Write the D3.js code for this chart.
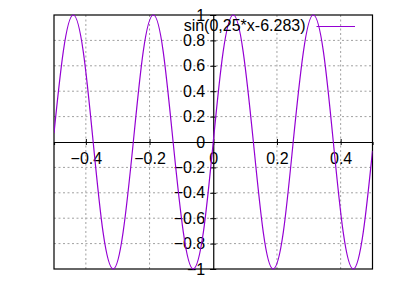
<!DOCTYPE html>
<html>
<head>
<meta charset="utf-8">
<script src="https://cdn.jsdelivr.net/npm/d3@7"></script>
<style>
  body { margin: 0; background: #fff; }
  text { font-family: "Liberation Sans", Arial, sans-serif; font-size: 16px; fill: #000; }
</style>
</head>
<body>
<svg id="canvas" width="400" height="300"></svg>
<script>
// points (peaks, zero crossings, half-way points)
const xValues = [-0.5, -0.471, -0.440, -0.408, -0.377, -0.346, -0.314, -0.283, -0.251, -0.220, -0.188,
                 -0.157, -0.126, -0.094, -0.063, -0.031, 0, 0.031, 0.063, 0.094, 0.126, 0.157,
                 0.188, 0.220, 0.251, 0.283, 0.314, 0.346, 0.377, 0.408, 0.440, 0.471, 0.5];
const yValues = [0.07, 0.71, 1, 0.71, 0, -0.71, -1, -0.71, 0, 0.71, 1,
                 0.71, 0, -0.71, -1, -0.71, 0, 0.71, 1, 0.71, 0, -0.71,
                 -1, -0.71, 0, 0.71, 1, 0.71, 0, -0.71, -1, -0.71, -0.07];
const xTicks = [-0.4, -0.2, 0, 0.2, 0.4];
const yTicks = [-1, -0.8, -0.6, -0.4, -0.2, 0, 0.2, 0.4, 0.6, 0.8, 1];
const seriesName = 'sin(0,25*x-6.283)';

const svg = d3.select('#canvas');
const plotLeft = 54, plotRight = 372.5, plotTop = 15, plotBottom = 269;

const x = d3.scaleLinear().domain([-0.5, 0.5]).range([plotLeft, plotRight]);
const y = d3.scaleLinear().domain([-1, 1]).range([plotBottom, plotTop]);

// dotted grid
svg.append('g')
   .selectAll('line')
   .data(xTicks.filter(d => d !== 0))
   .enter()
   .append('line')
   .attr('x1', d => x(d)).attr('x2', d => x(d))
   .attr('y1', plotTop).attr('y2', plotBottom)
   .attr('stroke', '#a0a0a0').attr('stroke-dasharray', '2,2.5');

svg.append('g')
   .selectAll('line')
   .data(yTicks.filter(d => d !== 0 && Math.abs(d) !== 1))
   .enter()
   .append('line')
   .attr('x1', plotLeft).attr('x2', plotRight)
   .attr('y1', d => y(d)).attr('y2', d => y(d))
   .attr('stroke', '#a0a0a0').attr('stroke-dasharray', '2,2.5');

// zero axes
const xAxis = svg.append('g')
   .attr('transform', `translate(0,${y(0)})`)
   .call(d3.axisBottom(x).tickValues(xTicks).tickFormat(d3.format('')).tickSizeOuter(0).tickSize(3).tickPadding(7.6));
xAxis.selectAll('.tick line').attr('y1', -3).attr('y2', 3).attr('stroke', '#000');
xAxis.select('.domain').attr('stroke', '#000').attr('stroke-width', 1.2);

const yAxis = svg.append('g')
   .attr('transform', `translate(${x(0)},0)`)
   .call(d3.axisLeft(y).tickValues(yTicks).tickFormat(d3.format('')).tickSizeOuter(0).tickSize(3).tickPadding(5));
yAxis.selectAll('.tick line').attr('x1', -3).attr('x2', 3).attr('stroke', '#000');
yAxis.select('.domain').attr('stroke', '#000').attr('stroke-width', 1.2);

xAxis.attr('font-family', null).attr('font-size', null);
yAxis.attr('font-family', null).attr('font-size', null);
svg.selectAll('.tick text').attr('fill', '#000');

// border
svg.append('rect')
   .attr('x', plotLeft).attr('y', plotTop)
   .attr('width', plotRight - plotLeft).attr('height', plotBottom - plotTop)
   .attr('fill', 'none').attr('stroke', '#000').attr('stroke-width', 1.2);

// curve
svg.append('clipPath').attr('id', 'clip')
   .append('rect')
   .attr('x', plotLeft).attr('y', plotTop - 1)
   .attr('width', plotRight - plotLeft).attr('height', plotBottom - plotTop + 2);

const points = xValues.map((d, i) => [d, yValues[i]]);
const line = d3.line()
   .x(d => x(d[0]))
   .y(d => y(d[1]))
   .curve(d3.curveNatural);

svg.append('path')
   .datum(points)
   .attr('d', line)
   .attr('clip-path', 'url(#clip)')
   .attr('fill', 'none')
   .attr('stroke', '#9400d3')
   .attr('stroke-width', 1.2);

// legend
svg.append('text')
   .attr('x', 305.5).attr('y', 30.5)
   .attr('text-anchor', 'end')
   .text(seriesName);
svg.append('line')
   .attr('x1', 316.5).attr('x2', 355)
   .attr('y1', 26.5).attr('y2', 26.5)
   .attr('stroke', '#9400d3')
   .attr('stroke-width', 1.2);
</script>
</body>
</html>
